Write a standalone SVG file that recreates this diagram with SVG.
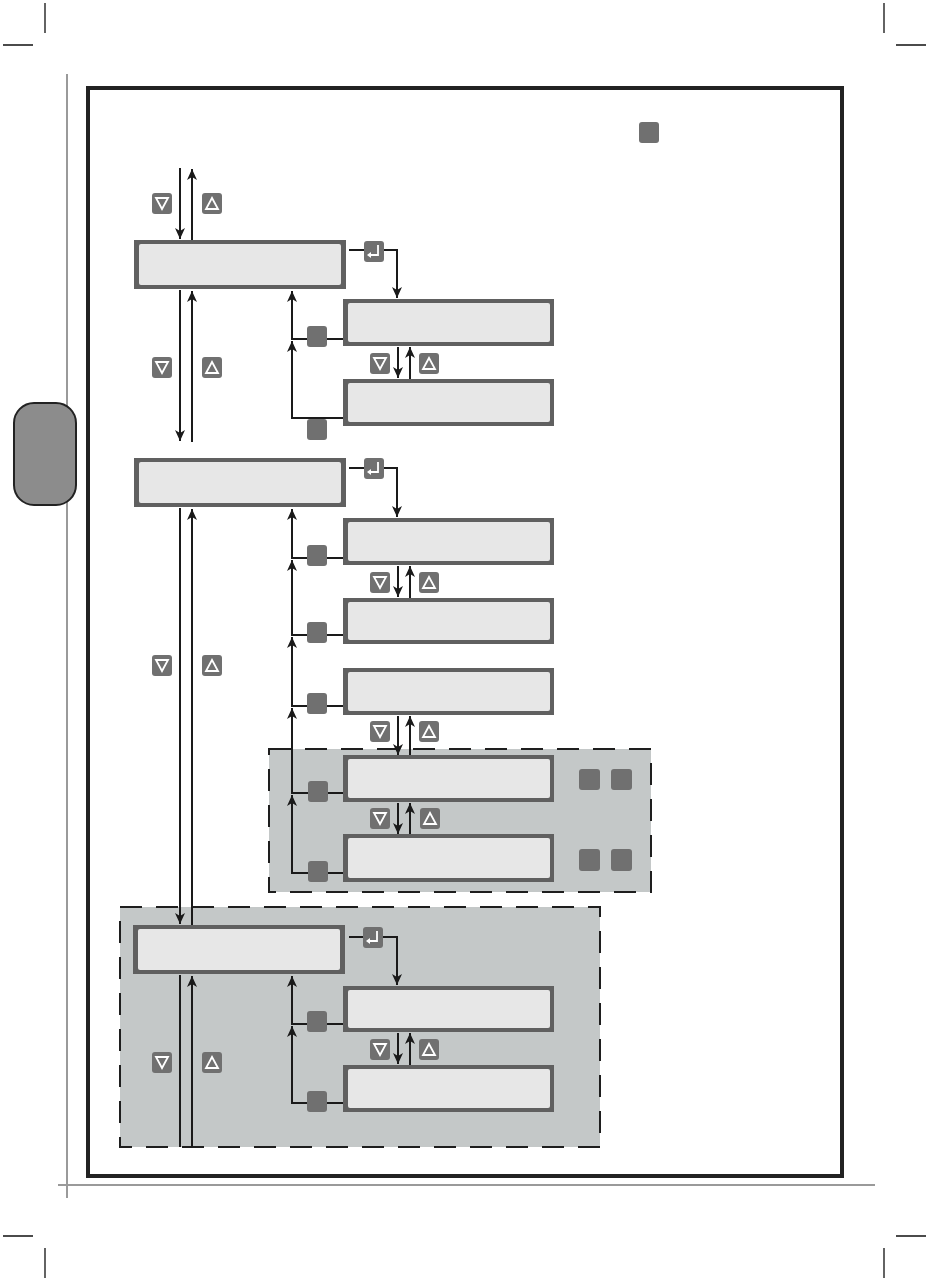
<svg xmlns="http://www.w3.org/2000/svg" width="930" height="1281" viewBox="0 0 930 1281">
<defs>
<marker id="ah" markerUnits="userSpaceOnUse" markerWidth="12" markerHeight="10" refX="11" refY="5" orient="auto">
<path d="M0,0 L11,5 L0,10 L3,5 z" fill="#1a1a1a"/>
</marker>
</defs>
<style>
.crop{stroke:#111;stroke-width:1.3;fill:none}
.guide{stroke:#9a9a9a;stroke-width:2;fill:none}
.frame{fill:none;stroke:#222;stroke-width:4}
.zone{fill:#c4c8c8;stroke:#1e1e1e;stroke-width:2;stroke-dasharray:22 14}
.lo{fill:#606060}
.li{fill:#e7e7e7}
.key{fill:#707070}
.gl{fill:none;stroke:#fff;stroke-width:1.8;stroke-linejoin:miter}
.ln{fill:none;stroke:#1a1a1a;stroke-width:2}
.ar{fill:none;stroke:#1a1a1a;stroke-width:2;marker-end:url(#ah)}
.tab{fill:#8c8c8c;stroke:#222;stroke-width:2}
</style>
<g id="cropmarks">
<path class="crop" d="M45,3V33M3,45H33M884,3V33M896,45H926M3,1236H33M45,1248V1278M884,1248V1278M896,1236H926"/>
</g>
<path class="guide" d="M67,74V1198M58,1185H875"/>
<rect class="frame" x="88" y="88" width="754" height="1088"/>
<rect id="side-tab" class="tab" x="14" y="403" width="62" height="102" rx="20"/>
<rect id="zone1" class="zone" x="269" y="749" width="382" height="143"/>
<rect id="zone2" class="zone" x="120" y="907" width="480" height="240"/>

<g id="connectors">
<path class="ar" d="M180,168V239"/>
<path class="ar" d="M192,240V169"/>
<path class="ar" d="M180,290V441"/>
<path class="ar" d="M192,442V291"/>
<path class="ar" d="M180,508V924"/>
<path class="ar" d="M192,925V509"/>
<path class="ln" d="M180,975V1147"/>
<path class="ar" d="M192,1147V976"/>

<path class="ar" d="M349,250H397V298"/>
<path class="ar" d="M349,468H397V517"/>
<path class="ar" d="M349,937H397V985"/>

<path class="ar" d="M343,339H292V291"/>
<path class="ar" d="M343,418H292V341"/>
<path class="ar" d="M398,347V378"/>
<path class="ar" d="M410,379V347"/>

<path class="ar" d="M343,558H292V509"/>
<path class="ar" d="M343,635H292V560"/>
<path class="ar" d="M343,706H292V637"/>
<path class="ar" d="M343,793H292V708"/>
<path class="ar" d="M343,873H292V795"/>
<path class="ar" d="M398,566V597"/>
<path class="ar" d="M410,598V566"/>
<path class="ar" d="M398,716V755"/>
<path class="ar" d="M410,756V716"/>
<path class="ar" d="M398,803V834"/>
<path class="ar" d="M410,835V803"/>

<path class="ar" d="M343,1024H292V976"/>
<path class="ar" d="M343,1103H292V1026"/>
<path class="ar" d="M398,1033V1064"/>
<path class="ar" d="M410,1065V1033"/>
</g>

<g id="menu1"><rect class="lo" x="134" y="240" width="212" height="49"/><rect class="li" x="139" y="244" width="202" height="41" rx="2"/></g>
<g id="menu2"><rect class="lo" x="134" y="458" width="212" height="49"/><rect class="li" x="139" y="462" width="202" height="41" rx="2"/></g>
<g id="menu3"><rect class="lo" x="133" y="925" width="212" height="49"/><rect class="li" x="138" y="929" width="202" height="41" rx="2"/></g>

<g id="sub-a"><rect class="lo" x="343" y="299" width="211" height="47"/><rect class="li" x="348" y="303" width="202" height="39" rx="2"/></g>
<g id="sub-b"><rect class="lo" x="343" y="379" width="211" height="47"/><rect class="li" x="348" y="383" width="202" height="39" rx="2"/></g>
<g id="sub-c"><rect class="lo" x="343" y="518" width="211" height="47"/><rect class="li" x="348" y="522" width="202" height="39" rx="2"/></g>
<g id="sub-d"><rect class="lo" x="343" y="598" width="211" height="46"/><rect class="li" x="348" y="602" width="202" height="38" rx="2"/></g>
<g id="sub-e"><rect class="lo" x="343" y="668" width="211" height="47"/><rect class="li" x="348" y="672" width="202" height="39" rx="2"/></g>
<g id="sub-f"><rect class="lo" x="343" y="755" width="211" height="47"/><rect class="li" x="348" y="759" width="202" height="39" rx="2"/></g>
<g id="sub-g"><rect class="lo" x="343" y="834" width="211" height="48"/><rect class="li" x="348" y="838" width="202" height="40" rx="2"/></g>
<g id="sub-h"><rect class="lo" x="343" y="986" width="211" height="46"/><rect class="li" x="348" y="990" width="202" height="38" rx="2"/></g>
<g id="sub-i"><rect class="lo" x="343" y="1065" width="211" height="47"/><rect class="li" x="348" y="1069" width="202" height="39" rx="2"/></g>

<g id="key-legend"><rect class="key" x="639" y="122" width="20" height="21" rx="3"/></g>

<g id="keys-down">
<g><rect class="key" x="152" y="193" width="20" height="21" rx="3"/><path class="gl" d="M156,198H168L162,209Z"/></g>
<g><rect class="key" x="152" y="357" width="20" height="21" rx="3"/><path class="gl" d="M156,362H168L162,373Z"/></g>
<g><rect class="key" x="152" y="655" width="20" height="21" rx="3"/><path class="gl" d="M156,660H168L162,671Z"/></g>
<g><rect class="key" x="152" y="1052" width="20" height="21" rx="3"/><path class="gl" d="M156,1057H168L162,1068Z"/></g>
<g><rect class="key" x="370" y="353" width="20" height="21" rx="3"/><path class="gl" d="M374,358H386L380,369Z"/></g>
<g><rect class="key" x="370" y="572" width="20" height="21" rx="3"/><path class="gl" d="M374,577H386L380,588Z"/></g>
<g><rect class="key" x="370" y="721" width="20" height="21" rx="3"/><path class="gl" d="M374,726H386L380,737Z"/></g>
<g><rect class="key" x="370" y="808" width="20" height="21" rx="3"/><path class="gl" d="M374,813H386L380,824Z"/></g>
<g><rect class="key" x="370" y="1039" width="20" height="21" rx="3"/><path class="gl" d="M374,1044H386L380,1055Z"/></g>
</g>
<g id="keys-up">
<g><rect class="key" x="202" y="193" width="20" height="21" rx="3"/><path class="gl" d="M206,209H218L212,198Z"/></g>
<g><rect class="key" x="202" y="357" width="20" height="21" rx="3"/><path class="gl" d="M206,373H218L212,362Z"/></g>
<g><rect class="key" x="202" y="655" width="20" height="21" rx="3"/><path class="gl" d="M206,671H218L212,660Z"/></g>
<g><rect class="key" x="202" y="1052" width="20" height="21" rx="3"/><path class="gl" d="M206,1068H218L212,1057Z"/></g>
<g><rect class="key" x="419" y="353" width="20" height="21" rx="3"/><path class="gl" d="M423,369H435L429,358Z"/></g>
<g><rect class="key" x="419" y="572" width="20" height="21" rx="3"/><path class="gl" d="M423,588H435L429,577Z"/></g>
<g><rect class="key" x="419" y="721" width="20" height="21" rx="3"/><path class="gl" d="M423,737H435L429,726Z"/></g>
<g><rect class="key" x="420" y="808" width="20" height="21" rx="3"/><path class="gl" d="M424,824H436L430,813Z"/></g>
<g><rect class="key" x="419" y="1039" width="20" height="21" rx="3"/><path class="gl" d="M423,1055H435L429,1044Z"/></g>
</g>
<g id="keys-enter">
<g><rect class="key" x="364" y="241" width="20" height="21" rx="3"/><path class="gl" d="M378,245V255H369"/><path d="M367,255L371,252V258Z" fill="#fff"/></g>
<g><rect class="key" x="364" y="458" width="20" height="21" rx="3"/><path class="gl" d="M378,462V472H369"/><path d="M367,472L371,469V475Z" fill="#fff"/></g>
<g><rect class="key" x="363" y="927" width="20" height="21" rx="3"/><path class="gl" d="M377,931V941H368"/><path d="M366,941L370,938V944Z" fill="#fff"/></g>
</g>
<g id="keys-plain">
<rect class="key" x="307" y="326" width="20" height="21" rx="3"/>
<rect class="key" x="307" y="419" width="20" height="21" rx="3"/>
<rect class="key" x="307" y="545" width="20" height="21" rx="3"/>
<rect class="key" x="307" y="622" width="20" height="21" rx="3"/>
<rect class="key" x="307" y="693" width="20" height="21" rx="3"/>
<rect class="key" x="308" y="781" width="20" height="21" rx="3"/>
<rect class="key" x="308" y="861" width="20" height="21" rx="3"/>
<rect class="key" x="307" y="1011" width="20" height="21" rx="3"/>
<rect class="key" x="307" y="1091" width="20" height="21" rx="3"/>
</g>
<g id="keys-pairs">
<rect class="key" x="579" y="769" width="21" height="21" rx="3"/>
<rect class="key" x="611" y="769" width="21" height="21" rx="3"/>
<rect class="key" x="579" y="849" width="21" height="22" rx="3"/>
<rect class="key" x="611" y="849" width="21" height="22" rx="3"/>
</g>
</svg>
